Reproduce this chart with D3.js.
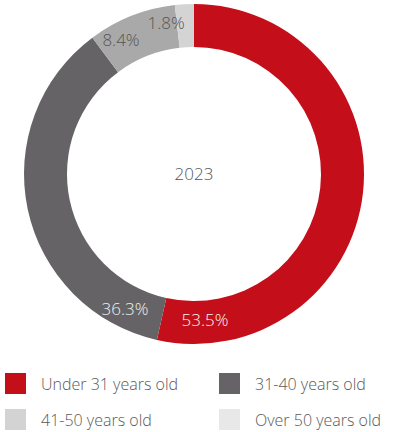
<!DOCTYPE html>
<html>
<head>
<meta charset="utf-8">
<script src="https://cdn.jsdelivr.net/npm/d3@7"></script>
<style>
  body { margin: 0; background: #fff; }
  svg text { font-family: "Open Sans", "Noto Sans", sans-serif; font-weight: 300; }
</style>
</head>
<body>
<div id="chart"></div>
<script>
const categories = ['Under 31 years old', '31-40 years old', '41-50 years old', 'Over 50 years old'];
const values = [53.5, 36.3, 8.4, 1.8];
const valueLabels = ['53.5%', '36.3%', '8.4%', '1.8%'];
const yearLabel = '2023';

const arcColors = ['#c40f1a', '#656366', '#a9a9a9', '#d4d4d4'];
const legendColors = ['#c40f1a', '#656366', '#d3d3d3', '#e8e8e8'];
const labelColors = ['#f4f4f4', '#f0f0f0', '#555', '#555'];
// hand placed label spots: [angle deg, radius]
const labelSpots = [[175.7, 146], [207.1, 151.5], [331.4, 152.5], [349.5, 153.5]];

const width = 404;
const height = 432;
const cx = 194;
const cy = 174;
const outerR = 170;
const innerR = 127;

const svg = d3.select('#chart')
  .append('svg')
  .attr('width', width)
  .attr('height', height);

const pie = d3.pie().sort(null).value(d => d);
const arc = d3.arc().innerRadius(innerR).outerRadius(outerR);

const g = svg.append('g')
  .attr('transform', `translate(${cx}, ${cy})`);

g.selectAll('path')
  .data(pie(values))
  .join('path')
  .attr('d', arc)
  .attr('fill', (d, i) => arcColors[i]);

g.selectAll('text.value')
  .data(valueLabels)
  .join('text')
  .attr('class', 'value')
  .attr('transform', (d, i) => {
    const [a, r] = labelSpots[i];
    const p = d3.pointRadial(a * Math.PI / 180, r);
    return `translate(${p[0]}, ${p[1]})`;
  })
  .attr('dy', '0.35em')
  .attr('text-anchor', 'middle')
  .style('font-size', '17px')
  .style('fill', (d, i) => labelColors[i])
  .text(d => d);

g.append('text')
  .attr('y', 6)
  .attr('text-anchor', 'middle')
  .style('font-size', '17px')
  .style('fill', '#555')
  .text(yearLabel);

// legend, two columns
const legend = svg.append('g').attr('class', 'legend');
const item = legend.selectAll('g')
  .data(categories)
  .join('g')
  .attr('transform', (d, i) => `translate(${5 + (i % 2) * 214}, ${373 + Math.floor(i / 2) * 36})`);

item.append('rect')
  .attr('width', 21)
  .attr('height', 21)
  .attr('fill', (d, i) => legendColors[i]);

item.append('text')
  .attr('x', 36)
  .attr('y', 17)
  .style('font-size', '16px')
  .style('fill', '#5a5a5a')
  .text(d => d);
</script>
</body>
</html>
